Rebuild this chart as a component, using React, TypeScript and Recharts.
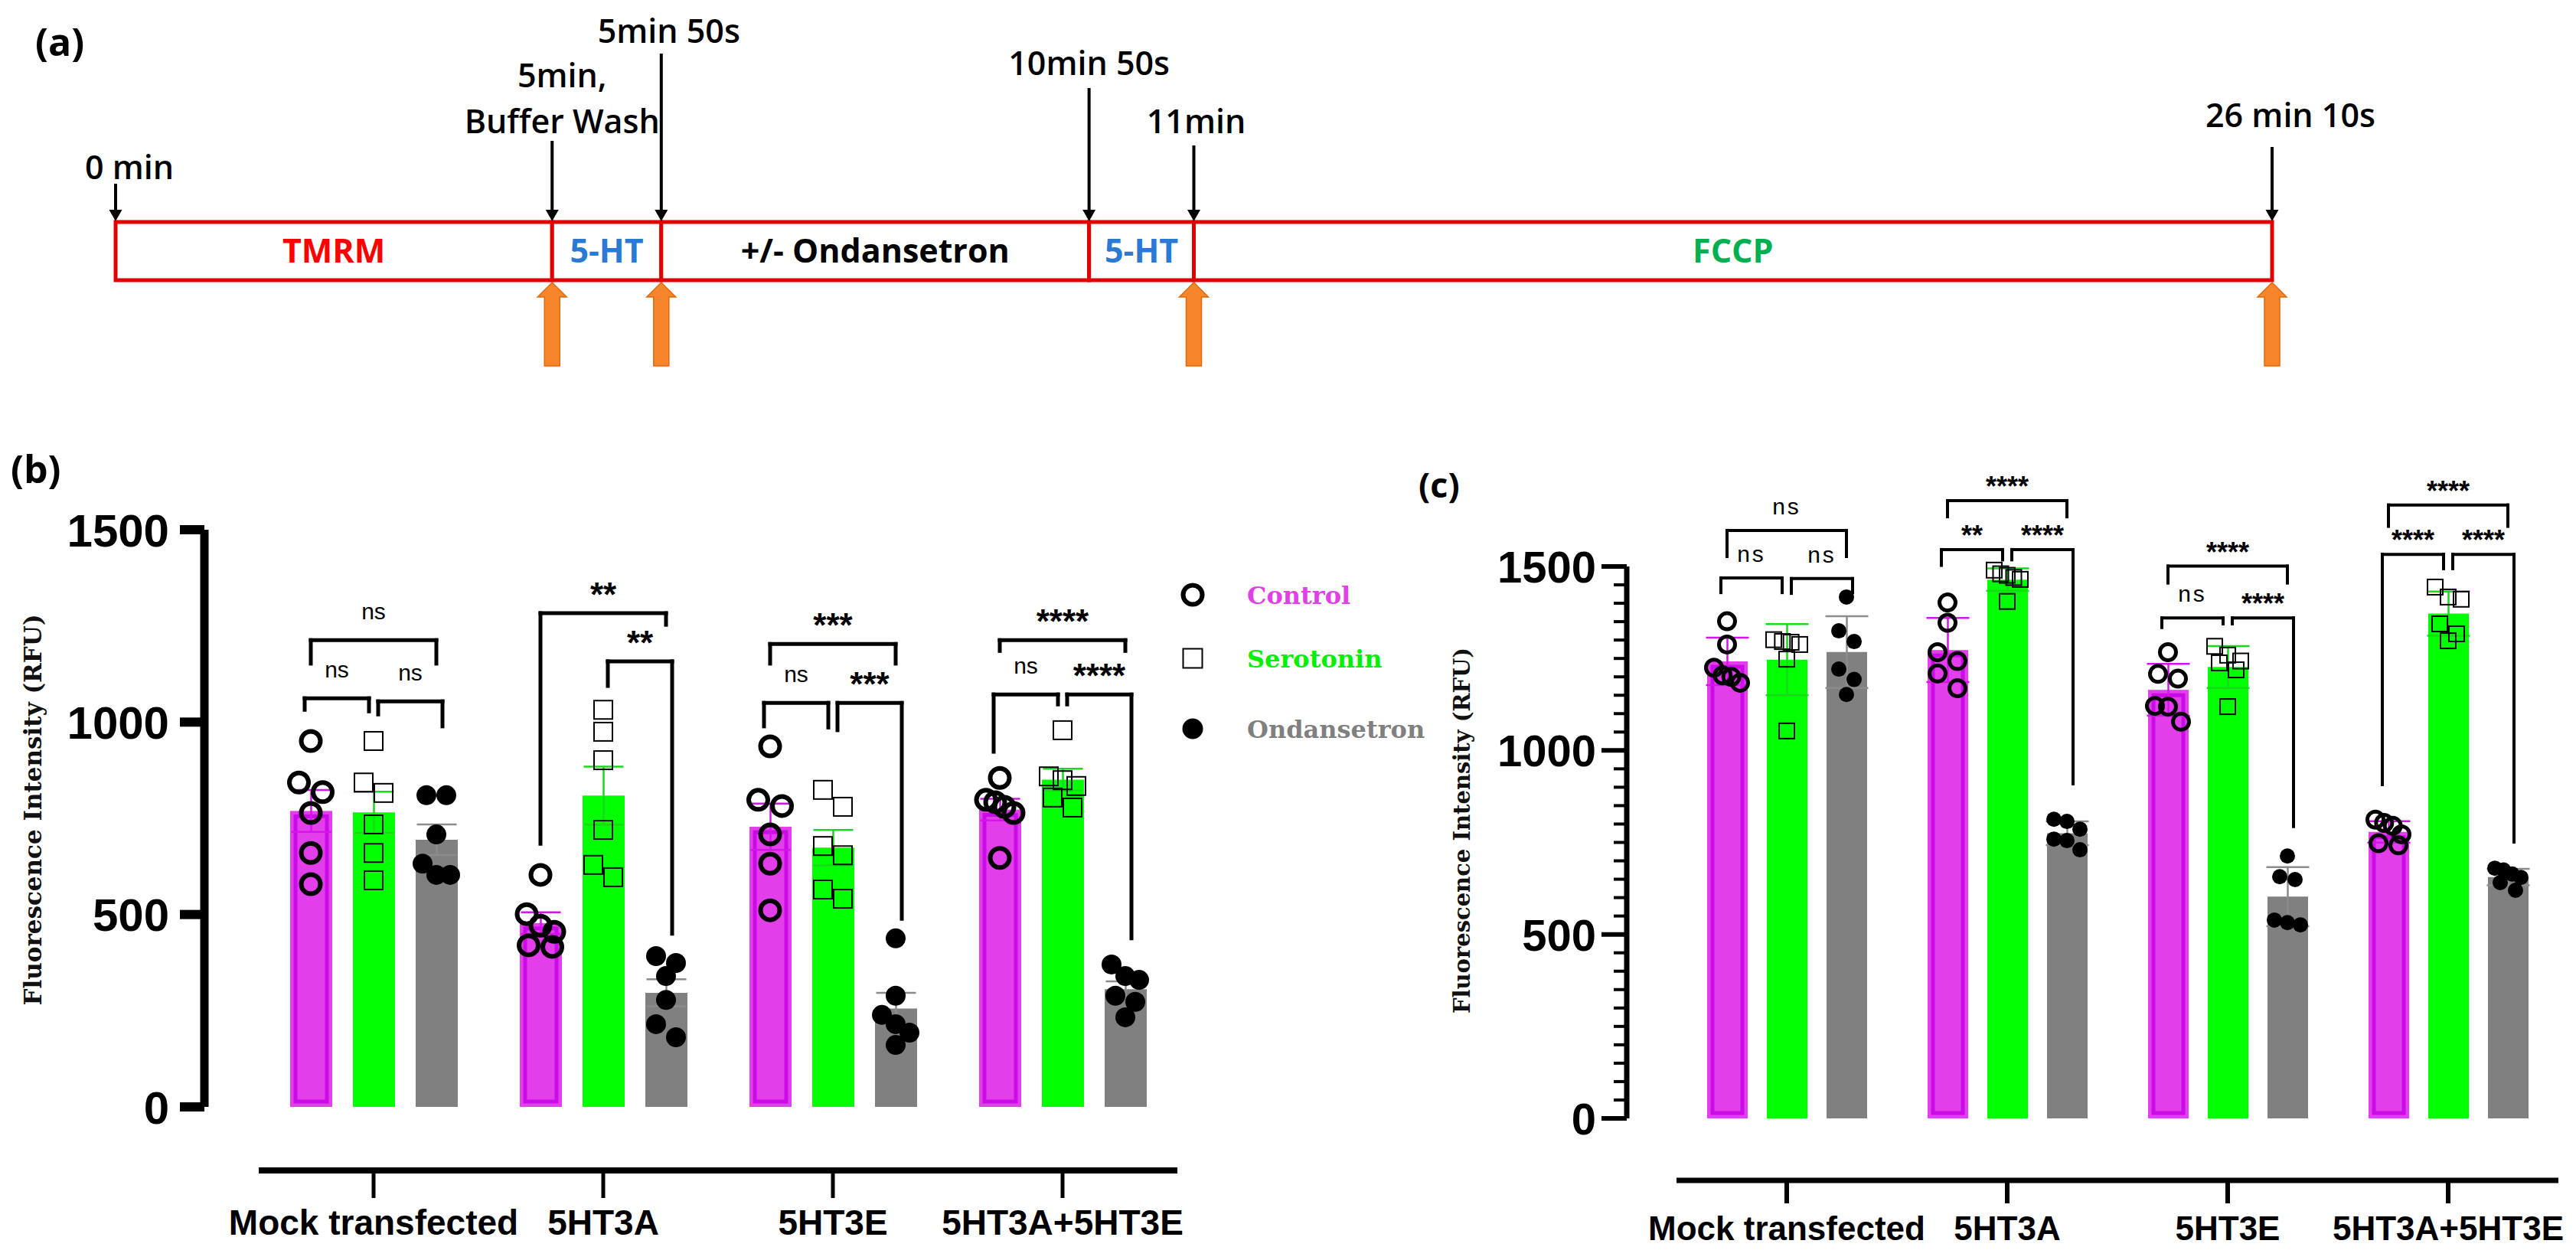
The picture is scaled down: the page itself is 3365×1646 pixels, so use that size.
import React from "react";
import {
  ComposedChart,
  Bar,
  XAxis,
  YAxis,
  Scatter,
  ErrorBar,
  ReferenceLine,
  ReferenceDot,
  LabelList,
  Legend,
} from "recharts";

// ---------- (a) protocol timeline ----------
const STAGE_NAMES = ["TMRM", "5-HT", "+/- Ondansetron", "5-HT", "FCCP"];
// drawn length of each stage box (the schematic is not to time scale)
const STAGE_SPANS = [10.0, 2.5, 9.8, 2.4, 24.7];
const STAGE_COLORS = ["#FF0000", "#2A79D3", "#000000", "#2A79D3", "#00B050"];
const TIME_POINTS = [["0 min"], ["5min,", "Buffer Wash"], ["5min 50s"], ["10min 50s"], ["11min"], ["26 min 10s"]];
const IMAGED = [false, true, true, false, true, true];

// ---------- (b) and (c) ----------
const GROUPS = ["Mock transfected", "5HT3A", "5HT3E", "5HT3A+5HT3E"];
const SERIES = ["Control", "Serotonin", "Ondansetron"];

// panel (b): six wells per bar, RFU
const B_CONTROL = [
  [951, 843, 818, 764, 660, 579],
  [603, 501, 471, 455, 420, 416],
  [937, 798, 782, 708, 632, 511],
  [855, 798, 792, 780, 764, 647],
];
const B_SEROTONIN = [
  [951, 843, 816, 734, 660, 589],
  [1032, 975, 901, 720, 629, 597],
  [824, 780, 678, 654, 565, 541],
  [979, 859, 849, 834, 804, 778],
];
const B_ONDANSETRON = [
  [810, 810, 708, 632, 603, 603],
  [392, 374, 340, 278, 215, 181],
  [438, 289, 239, 215, 193, 161],
  [370, 340, 330, 289, 273, 233],
];
// [group, from series, to series, bracket level, leg end (from), leg end (to), label] in RFU
const B_BRACKETS = [
  [0, 0, 1, 1062, 1032, 1028, "ns"],
  [0, 1, 2, 1054, 1020, 989, "ns"],
  [0, 0, 2, 1213, 1152, 1152, "ns"],
  [1, 0, 2, 1283, 684, 1253, "**"],
  [1, 1, 2, 1158, 1094, 450, "**"],
  [2, 0, 2, 1203, 1152, 1152, "***"],
  [2, 0, 1, 1050, 989, 986, "ns"],
  [2, 1, 2, 1050, 979, 489, "***"],
  [3, 0, 2, 1213, 1185, 1185, "****"],
  [3, 0, 1, 1072, 923, 1046, "ns"],
  [3, 1, 2, 1072, 1046, 438, "****"],
];

// panel (c)
const C_CONTROL = [
  [1351, 1288, 1225, 1204, 1200, 1184],
  [1402, 1347, 1267, 1243, 1209, 1169],
  [1267, 1208, 1195, 1121, 1119, 1078],
  [812, 803, 795, 772, 748, 742],
];
const C_SEROTONIN = [
  [1301, 1296, 1294, 1288, 1248, 1053],
  [1490, 1480, 1476, 1470, 1465, 1405],
  [1283, 1259, 1243, 1238, 1219, 1119],
  [1444, 1417, 1411, 1344, 1317, 1298],
];
const C_ONDANSETRON = [
  [1417, 1325, 1296, 1221, 1193, 1152],
  [813, 807, 786, 759, 755, 730],
  [713, 657, 649, 539, 532, 526],
  [680, 675, 664, 655, 641, 620],
];
const C_BRACKETS = [
  [0, 0, 1, 1469, 1429, 1429, "ns"],
  [0, 1, 2, 1467, 1427, 1429, "ns"],
  [0, 0, 2, 1598, 1527, 1527, "ns"],
  [1, 0, 2, 1679, 1635, 1635, "****"],
  [1, 0, 1, 1546, 1503, 1518, "**"],
  [1, 1, 2, 1546, 1518, 909, "****"],
  [2, 0, 2, 1501, 1455, 1455, "****"],
  [2, 0, 1, 1360, 1334, 1344, "ns"],
  [2, 1, 2, 1360, 1344, 793, "****"],
  [3, 0, 2, 1667, 1609, 1609, "****"],
  [3, 0, 1, 1533, 907, 1494, "****"],
  [3, 1, 2, 1533, 1494, 751, "****"],
];

const B_TICKS = [0, 500, 1000, 1500];
const C_TICKS = Array.from({ length: 31 }, (_, i) => i * 50);
const Y_MAX = 1500;
const Y_TITLE = "Fluorescence Intensity (RFU)";

const MAGENTA = "#E23FEA";
const MAGENTA_EDGE = "#CB0AE8";
const GREEN = "#00FF00";
const GRAY = "#808080";
const ERR_COLORS = ["#D414EA", "#19DA19", "#8C8C8C"];
const LEGEND_COLORS = ["#E040E8", "#00F000", "#808080"];

const SANS = "'Liberation Sans', Arial, sans-serif";
const SERIF = "'DejaVu Serif', serif";
const CALIBRI = "'Open Sans', sans-serif";

// timeline layout
const TL = { width: 3365, height: 520, left: 151, right: 2968, boxMid: 328, boxH: 76 };
const ARROW_RISE = [50, 106, 220, 175, 100, 98];
const LABEL_DX = [18, 13, 10, 0, 3, 24];
const LABEL_GAP = [6, 10, 14, 17, 16, 26];

const PANEL_B = {
  left: 0, width: 1880, height: 1646,
  plotLeft: 338, plotRight: 1538, plotTop: 692, plotBottom: 1446,
  yGap: 71, xGap: 83, yAxisW: 250, xAxisH: 110,
  barSize: 55, barGap: 27,
  yLineW: 11, xLineW: 8,
  ticks: B_TICKS, tickLen: 32, tickW: 12, minorLen: 0, minorW: 0,
  tickFont: 60, tickGap: 46,
  xTickLen: 36, xTickW: 5, xFont: 46, xLabelDy: 84,
  circleR: 12.5, circleW: 6, squareS: 24, squareW: 2, dotR: 13,
  dia: [31, 26, 26], spread: 36,
  edgeInset: 7, edgeW: 5,
  errKind: "sem", errW: 26, errSW: 2.5,
  bracketW: 5, nsFont: 30, starFont: 44, nsBase: 27, starBase: 9, nsSpacing: 0,
};

const PANEL_C = {
  left: 1800, width: 1565, height: 1646,
  plotLeft: 2190, plotRight: 3342, plotTop: 740, plotBottom: 1461,
  yGap: 65, xGap: 81, yAxisW: 250, xAxisH: 104,
  barSize: 53, barGap: 25,
  yLineW: 7, xLineW: 7,
  ticks: C_TICKS, tickLen: 33, tickW: 6, minorLen: 17, minorW: 4,
  tickFont: 58, tickGap: 40,
  xTickLen: 30, xTickW: 6, xFont: 44, xLabelDy: 78,
  circleR: 10.5, circleW: 5, squareS: 20, squareW: 2, dotR: 10,
  dia: [26, 22, 20], spread: 34,
  edgeInset: 7, edgeW: 5,
  errKind: "sd", errW: 28, errSW: 2.5,
  bracketW: 4, nsFont: 30, starFont: 36, nsBase: 21, starBase: 6, nsSpacing: 3,
};

// axis titles (page coordinates of their centres)
const TITLES = [
  { x: 43, y: 1058, size: 31 },
  { x: 1910, y: 1085, size: 29 },
];

const mean = (a: number[]) => a.reduce((s, v) => s + v, 0) / a.length;
const sd = (a: number[]) => {
  const m = mean(a);
  return Math.sqrt(a.reduce((s, v) => s + (v - m) ** 2, 0) / (a.length - 1));
};
const sem = (a: number[]) => sd(a) / Math.sqrt(a.length);

// spread points that would overlap sideways, the way Prism does it
function swarm(values: number[], dia: number, spread: number, pxPerUnit: number) {
  const order = values.map((_, i) => i).sort((a, b) => values[b] - values[a]);
  const out = new Array(values.length).fill(0);
  let k = 0;
  while (k < order.length) {
    const cluster = [order[k]];
    const top = values[order[k]];
    k++;
    while (k < order.length && (top - values[order[k]]) * pxPerUnit < dia * 0.9) {
      cluster.push(order[k]);
      k++;
    }
    const n = cluster.length;
    const step = n > 1 ? Math.min(dia, spread / (n - 1)) : 0;
    cluster.forEach((p, j) => {
      out[p] = (j - (n - 1) / 2) * step;
    });
  }
  return out;
}

function marker(s: number, cfg: any, cx: number, cy: number) {
  if (s === 0) return <circle cx={cx} cy={cy} r={cfg.circleR} fill="none" stroke="#000" strokeWidth={cfg.circleW} />;
  if (s === 1)
    return (
      <rect
        x={cx - cfg.squareS / 2}
        y={cy - cfg.squareS / 2}
        width={cfg.squareS}
        height={cfg.squareS}
        fill="none"
        stroke="#000"
        strokeWidth={cfg.squareW}
      />
    );
  return <circle cx={cx} cy={cy} r={cfg.dotR} fill="#000" />;
}

function TimeMark(props: any) {
  const { cx, cy, i } = props;
  const top = cy - TL.boxH / 2;
  const bottom = cy + TL.boxH / 2;
  const start = top - ARROW_RISE[i];
  const lines = TIME_POINTS[i];
  const tip = bottom + 3;
  const end = bottom + 112;
  const orange = [
    [cx, tip], [cx + 19, tip + 19], [cx + 10, tip + 19], [cx + 10, end],
    [cx - 10, end], [cx - 10, tip + 19], [cx - 19, tip + 19],
  ].map((p) => p.join(",")).join(" ");
  return (
    <g>
      <line x1={cx} y1={start} x2={cx} y2={top - 14} stroke="#000" strokeWidth={4} />
      <polygon points={`${cx - 8.5},${top - 16} ${cx + 8.5},${top - 16} ${cx},${top - 1}`} fill="#000" />
      {lines.map((t, k) => (
        <text
          key={k}
          x={cx + LABEL_DX[i]}
          y={start - LABEL_GAP[i] - (lines.length - 1 - k) * 60}
          textAnchor="middle"
          fontFamily={CALIBRI}
          fontWeight={600}
          fontSize={43}
          fill="#000"
        >
          {t}
        </text>
      ))}
      {IMAGED[i] && <polygon points={orange} fill="#F7852B" stroke="#E06A0E" strokeWidth={1.5} />}
    </g>
  );
}

function Timeline() {
  const row: any = { stage: "protocol" };
  STAGE_SPANS.forEach((v, i) => (row["s" + i] = v));
  const total = STAGE_SPANS.reduce((s, v) => s + v, 0);
  const bounds = STAGE_SPANS.reduce((acc: number[], v) => [...acc, acc[acc.length - 1] + v], [0]);
  return (
    <div style={{ position: "absolute", left: 0, top: 0 }}>
      <ComposedChart
        layout="vertical"
        width={TL.width}
        height={TL.height}
        data={[row]}
        margin={{ top: TL.boxMid - 78, bottom: TL.height - TL.boxMid - 78, left: TL.left, right: TL.width - TL.right }}
      >
        <XAxis type="number" hide domain={[0, total]} />
        <YAxis type="category" dataKey="stage" hide />
        {STAGE_NAMES.map((name, i) => (
          <Bar
            key={i}
            dataKey={"s" + i}
            stackId="t"
            barSize={TL.boxH}
            fill="#FFFFFF"
            stroke="#E00000"
            strokeWidth={5}
            isAnimationActive={false}
          >
            <LabelList
              dataKey={"s" + i}
              position="center"
              formatter={() => name}
              fill={STAGE_COLORS[i]}
              fontSize={43}
              fontWeight={700}
              fontFamily={CALIBRI}
            />
          </Bar>
        ))}
        {bounds.map((b, i) => (
          <ReferenceDot
            key={"m" + i}
            x={b}
            y="protocol"
            r={1}
            ifOverflow="visible"
            shape={(p: any) => <TimeMark {...p} i={i} />}
          />
        ))}
      </ComposedChart>
    </div>
  );
}

function BarPanel({ cfg, sets, brackets, withLegend }: any) {
  const errFn = cfg.errKind === "sd" ? sd : sem;
  const [ctrl, sero, ond] = sets;
  const rows = GROUPS.map((g, i) => ({
    group: g,
    ctrl: mean(ctrl[i]),
    sero: mean(sero[i]),
    ond: mean(ond[i]),
    ctrlErr: errFn(ctrl[i]),
    seroErr: errFn(sero[i]),
    ondErr: errFn(ond[i]),
  }));
  const catW = (cfg.plotRight - cfg.plotLeft) / GROUPS.length;
  const pitch = cfg.barSize + cfg.barGap;
  const pxPerUnit = (cfg.plotBottom - cfg.plotTop) / Y_MAX;
  const slotX = (g: number, s: number, shift = 0) => g + 0.5 + ((s - 1) * pitch + shift) / catW;

  const points = sets.map((set: number[][], s: number) =>
    set.flatMap((vals, g) => {
      const jit = swarm(vals, cfg.dia[s], cfg.spread, pxPerUnit);
      return vals.map((v, k) => ({ x: slotX(g, s, jit[k]), y: v }));
    })
  );

  const margin = {
    top: cfg.plotTop,
    left: cfg.plotLeft - cfg.left - cfg.yGap - cfg.yAxisW,
    right: cfg.left + cfg.width - cfg.plotRight,
    bottom: cfg.height - cfg.plotBottom - cfg.xGap - cfg.xAxisH,
  };

  const yTick = (p: any) => {
    const { x, y, payload } = p;
    const v = payload.value;
    const major = v % 500 === 0;
    if (!major && !cfg.minorLen) return <g />;
    return (
      <g>
        <line
          x1={x - (major ? cfg.tickLen : cfg.minorLen)}
          x2={x}
          y1={y}
          y2={y}
          stroke="#000"
          strokeWidth={major ? cfg.tickW : cfg.minorW}
        />
        {major && (
          <text
            x={x - cfg.tickGap}
            y={y + cfg.tickFont * 0.36}
            textAnchor="end"
            fontFamily={SANS}
            fontWeight={700}
            fontSize={cfg.tickFont}
            fill="#000"
          >
            {v}
          </text>
        )}
      </g>
    );
  };

  const xTick = (p: any) => {
    const { x, y, payload } = p;
    return (
      <g>
        <line x1={x} x2={x} y1={y} y2={y + cfg.xTickLen} stroke="#000" strokeWidth={cfg.xTickW} />
        <text
          x={x}
          y={y + cfg.xLabelDy}
          textAnchor="middle"
          fontFamily={SANS}
          fontWeight={700}
          fontSize={cfg.xFont}
          fill="#000"
        >
          {payload.value}
        </text>
      </g>
    );
  };

  const controlBar = (p: any) => {
    const { x, y, width, height } = p;
    if (!height || height <= 0) return <g />;
    const i = cfg.edgeInset;
    return (
      <g>
        <rect x={x} y={y} width={width} height={height} fill={MAGENTA} />
        <rect
          x={x + i}
          y={y + i}
          width={Math.max(0, width - 2 * i)}
          height={Math.max(0, height - 2 * i)}
          fill="none"
          stroke={MAGENTA_EDGE}
          strokeWidth={cfg.edgeW}
        />
      </g>
    );
  };

  const bracketEls: any[] = [];
  brackets.forEach((br: any[], n: number) => {
    const [g, a, b, level, endA, endB, text] = br;
    const inner = b - a === 1;
    const shiftA = inner ? (a === 0 ? -8 : 6) : 0;
    const shiftB = inner ? (a === 0 ? -6 : 8) : 0;
    const xa = slotX(g, a, shiftA);
    const xb = slotX(g, b, shiftB);
    const common = {
      xAxisId: "num",
      yAxisId: "main",
      ifOverflow: "visible" as const,
      stroke: "#000",
      strokeWidth: cfg.bracketW,
      strokeLinecap: "square" as const,
    };
    bracketEls.push(
      <ReferenceLine key={`h${n}`} {...common} segment={[{ x: xa, y: level }, { x: xb, y: level }]} />,
      <ReferenceLine key={`l${n}`} {...common} segment={[{ x: xa, y: level }, { x: xa, y: endA }]} />,
      <ReferenceLine key={`r${n}`} {...common} segment={[{ x: xb, y: level }, { x: xb, y: endB }]} />,
      <ReferenceDot
        key={`t${n}`}
        xAxisId="num"
        yAxisId="main"
        x={(xa + xb) / 2}
        y={level}
        r={1}
        ifOverflow="visible"
        shape={(p: any) => {
          const stars = text !== "ns";
          return (
            <text
              x={p.cx}
              y={p.cy - (stars ? cfg.starBase : cfg.nsBase)}
              textAnchor="middle"
              fontFamily={SANS}
              fontWeight={stars ? 700 : 400}
              fontSize={stars ? cfg.starFont : cfg.nsFont}
              letterSpacing={stars ? 0 : cfg.nsSpacing}
              fill="#000"
            >
              {text}
            </text>
          );
        }}
      />
    );
  });

  const legendContent = () => {
    const rowsY = [32, 115, 207];
    return (
      <svg width={380} height={240}>
        {SERIES.map((name, s) => (
          <g key={name}>
            {marker(s, { ...PANEL_B, squareS: 25, dotR: 13.5 }, 28, rowsY[s])}
            <text
              x={99}
              y={rowsY[s] + 12}
              fill={LEGEND_COLORS[s]}
              fontFamily={SERIF}
              fontWeight={700}
              fontSize={32}
            >
              {name}
            </text>
          </g>
        ))}
      </svg>
    );
  };

  const barKeys = ["ctrl", "sero", "ond"];
  const fills = [MAGENTA, GREEN, GRAY];

  return (
    <div style={{ position: "absolute", left: cfg.left, top: 0 }}>
      <ComposedChart width={cfg.width} height={cfg.height} data={rows} margin={margin} barGap={cfg.barGap}>
        <XAxis xAxisId="cat" dataKey="group" height={cfg.xGap} axisLine={false} tickLine={false} tick={false} />
        <XAxis
          xAxisId="lbl"
          dataKey="group"
          height={cfg.xAxisH}
          interval={0}
          axisLine={{ stroke: "#000", strokeWidth: cfg.xLineW }}
          tickLine={false}
          tickSize={0}
          tickMargin={0}
          tick={xTick}
        />
        <XAxis xAxisId="num" type="number" dataKey="x" domain={[0, GROUPS.length]} hide />
        <YAxis yAxisId="gap" width={cfg.yGap} domain={[0, Y_MAX]} axisLine={false} tickLine={false} tick={false} />
        <YAxis
          yAxisId="main"
          width={cfg.yAxisW}
          domain={[0, Y_MAX]}
          ticks={cfg.ticks}
          interval={0}
          axisLine={{ stroke: "#000", strokeWidth: cfg.yLineW }}
          tickLine={false}
          tickSize={0}
          tickMargin={0}
          tick={yTick}
        />
        {barKeys.map((k, s) => (
          <Bar
            key={k}
            dataKey={k}
            xAxisId="cat"
            yAxisId="main"
            barSize={cfg.barSize}
            fill={fills[s]}
            shape={s === 0 ? controlBar : undefined}
            isAnimationActive={false}
          >
            <ErrorBar
              dataKey={k + "Err"}
              width={cfg.errW}
              strokeWidth={cfg.errSW}
              stroke={ERR_COLORS[s]}
              isAnimationActive={false}
            />
          </Bar>
        ))}
        {points.map((pts: any[], s: number) => (
          <Scatter
            key={"pts" + s}
            data={pts}
            xAxisId="num"
            yAxisId="main"
            dataKey="y"
            shape={(p: any) => marker(s, cfg, p.cx, p.cy)}
            isAnimationActive={false}
          />
        ))}
        {bracketEls}
        {withLegend && (
          <Legend
            layout="vertical"
            align="center"
            verticalAlign="middle"
            wrapperStyle={{ left: 1530, top: 745, width: 380, height: 240 }}
            content={legendContent}
          />
        )}
      </ComposedChart>
    </div>
  );
}

export default function App() {
  return (
    <div
      style={{
        position: "absolute",
        left: 0,
        top: 0,
        width: 3365,
        height: 1646,
        background: "#FFFFFF",
        overflow: "hidden",
      }}
    >
      <Timeline />
      <BarPanel cfg={PANEL_B} sets={[B_CONTROL, B_SEROTONIN, B_ONDANSETRON]} brackets={B_BRACKETS} withLegend />
      <BarPanel cfg={PANEL_C} sets={[C_CONTROL, C_SEROTONIN, C_ONDANSETRON]} brackets={C_BRACKETS} withLegend={false} />
      <svg width={3365} height={1646} style={{ position: "absolute", left: 0, top: 0, pointerEvents: "none" }}>
        <text x={46} y={73} fontFamily={CALIBRI} fontWeight={700} fontSize={50} fill="#000">(a)</text>
        <text x={14} y={631} fontFamily={CALIBRI} fontWeight={700} fontSize={50} fill="#000">(b)</text>
        <text x={1853} y={650} fontFamily={CALIBRI} fontWeight={700} fontSize={45} fill="#000">(c)</text>
        {TITLES.map((t, i) => (
          <text
            key={i}
            x={t.x}
            y={t.y}
            transform={`rotate(-90 ${t.x} ${t.y})`}
            textAnchor="middle"
            dominantBaseline="central"
            fontFamily={SERIF}
            fontWeight={700}
            style={{ fontSize: `${t.size}px` }}
            fill="#111"
          >
            {Y_TITLE}
          </text>
        ))}
      </svg>
    </div>
  );
}
